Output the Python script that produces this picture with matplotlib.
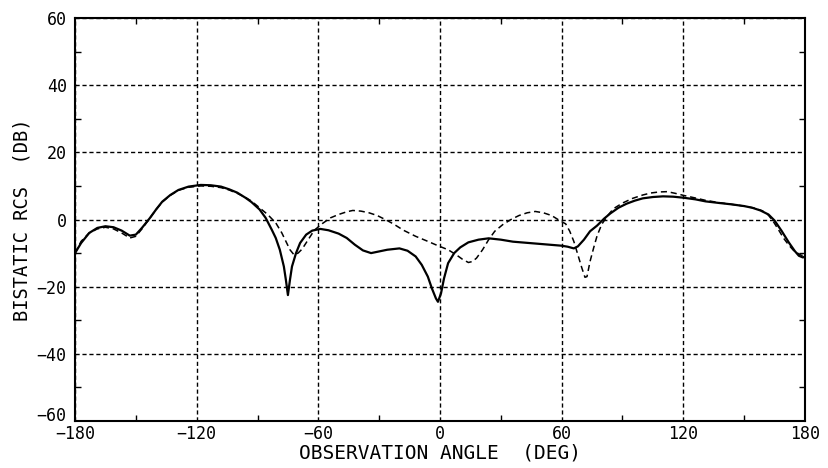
import numpy as np
import matplotlib
matplotlib.use('Agg')
import matplotlib.pyplot as plt
import matplotlib.transforms as mtransforms
from matplotlib.ticker import MultipleLocator

plt.rcParams['font.family'] = ['DejaVu Sans Mono', 'DejaVu Sans']

# solid curve (angle deg, rcs dB)
solid_ang = [-180, -177, -173, -169, -165, -161, -157, -153, -150, -147, -143, -140,
             -137, -133, -129, -124, -118, -113, -108, -104, -100, -96, -93, -89,
             -86, -83, -81, -79, -77, -76, -75, -74, -73, -71, -69, -66, -63, -59,
             -55, -50, -46, -42, -38, -34, -30, -26, -20, -16, -12, -9, -6, -4, -2,
             -1, 0.5, 2, 4, 7, 10, 14, 19, 24, 30, 36, 42, 48, 54, 60, 63, 66, 68,
             71, 74, 77.5, 81, 84, 88, 92, 96, 100, 105, 110, 115, 120, 126, 131,
             138, 144, 150, 154, 158, 162, 165, 168.5, 172, 175, 177, 179, 180]
solid_db = [-10, -7, -4, -2.5, -2, -2.3, -3.3, -4.8, -4.5, -2.5, 0.5, 3,
            5.3, 7.3, 8.8, 9.8, 10.3, 10.2, 9.8, 9, 8, 6.5, 5.2, 3,
            0.5, -3, -5.5, -9, -14, -18, -22.5, -18, -14, -10, -7, -4.5, -3.3, -2.8,
            -3.2, -4.2, -5.5, -7.5, -9.2, -10, -9.5, -9, -8.6, -9.3, -11, -13.5, -17, -20.5, -23.5,
            -24.5, -22, -17.5, -13, -10, -8.3, -6.8, -6, -5.6, -6, -6.6, -6.9, -7.2, -7.5, -7.8, -8.1, -8.6, -8,
            -6, -3.5, -1.8, 0.3, 1.8, 3.5, 4.7, 5.6, 6.3, 6.7, 6.9, 6.8, 6.5, 6, 5.4,
            4.9, 4.5, 4, 3.5, 2.7, 1.5, -0.3, -3.4, -6.8, -9.4, -10.8, -11.3, -11]

# dashed curve
dash_ang = [-180, -177, -173, -169, -165, -161, -157, -153, -150, -147, -143, -140,
            -137, -133, -129, -124, -118, -113, -108, -104, -100, -96, -93, -89,
            -85, -81, -78, -76, -74, -72, -70, -68, -65, -62, -58, -54, -50, -46,
            -43, -39, -35, -31, -27, -23, -18, -12, -6, -1, 4, 8, 11, 14, 16, 18,
            21, 24, 27, 31, 35, 39, 43, 47, 51, 55, 59, 62, 64, 66, 68, 70, 71.5,
            72.5, 74, 75.8, 77.5, 79.8, 82.5, 85.5, 90, 95, 100, 104, 108, 112, 116,
            120, 126, 131, 138, 144, 150, 155, 159, 162, 164.5, 167, 169.5, 172,
            174.5, 176.6, 178, 180]
dash_db = [-10, -6.5, -4, -2.8, -2.3, -2.8, -4, -5.5, -5, -2.8, 0.5, 3,
           5.2, 7.2, 8.7, 9.6, 10, 9.9, 9.5, 8.8, 7.8, 6.6, 5.5, 3.5,
           1.5, -1, -4, -6.5, -9, -10.5, -10, -8.8, -6, -3.2, -1.2, 0.5, 1.5, 2.3,
           2.7, 2.5, 2, 1.2, 0, -1.3, -3.2, -5, -6.5, -7.8, -9, -10.5, -11.8, -12.8, -12.5, -11.5,
           -9, -6, -3.5, -1.5, 0, 1.2, 2, 2.4, 2, 1.2, -0.3, -1.3, -3.5, -6.5, -10.5, -14.5, -17.2,
           -17, -12.5, -8.4, -4.8, -1.4, 1, 3.2, 4.9, 6.3, 7.3, 7.9, 8.2, 8.3, 7.8,
           7.2, 6.4, 5.7, 5, 4.5, 4, 3.4, 2.6, 1.3, -0.7, -3.1, -5.6, -7.6,
           -9.3, -10.1, -10.6, -10.8]

xticks = [-180, -120, -60, 0, 60, 120, 180]
yticks = [-60, -40, -20, 0, 20, 40, 60]

fig = plt.figure(figsize=(8.29, 4.68), dpi=100)
ax = fig.add_axes([0.0905, 0.1004, 0.971 - 0.0905, 0.9615 - 0.1004])

ax.plot(solid_ang, solid_db, color='black', lw=1.6, zorder=3)
ax.plot(dash_ang, dash_db, color='black', lw=1.1, dashes=(4, 2.5), zorder=3)

ax.set_xlim(-180, 180)
ax.set_ylim(-60, 60)
ax.set_xticks(xticks)
ax.set_yticks(yticks)
ax.xaxis.set_minor_locator(MultipleLocator(30))
ax.yaxis.set_minor_locator(MultipleLocator(10))
ax.tick_params(which='major', length=0, labelsize=12, pad=3)
ax.tick_params(axis='y', which='major', pad=6)
ax.tick_params(which='minor', direction='in', length=4, width=1,
               top=True, right=True)
ax.grid(True, which='major', color='black', lw=1.0, linestyle=(0, (3, 2)))
for s in ax.spines.values():
    s.set_linewidth(1.5)

# bottom y label sits a little higher, as on the original plot
lab = ax.get_yticklabels()[0]
lab.set_transform(lab.get_transform() +
                  mtransforms.ScaledTranslation(0, 5 / 72, fig.dpi_scale_trans))

ax.set_xlabel('OBSERVATION ANGLE  (DEG)', fontsize=14, labelpad=0)
ax.set_ylabel('BISTATIC RCS  (DB)', fontsize=13.5, labelpad=4)

fig.savefig('out.png', dpi=100, facecolor='white')
